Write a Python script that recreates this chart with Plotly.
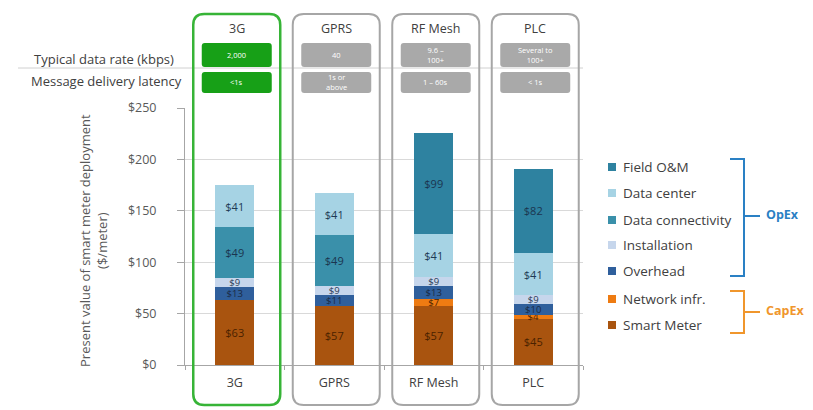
import plotly.graph_objects as go

# ---- data -------------------------------------------------------------
technologies = ["3G", "GPRS", "RF Mesh", "PLC"]
data_rate = ["2,000", "40", "9.6 –<br>100+", "Several to<br>100+"]
latency = ["<1s", "1s or<br>above", "1 – 60s", "< 1s"]

# cost components, stacked bottom to top ($/meter)
smart_meter = [63, 57, 57, 45]
network_infr = [0, 0, 7, 4]
overhead = [13, 11, 13, 10]
installation = [9, 9, 9, 9]
data_connectivity = [49, 49, 0, 0]
data_center = [41, 41, 41, 41]
field_om = [0, 0, 99, 82]

y_ticks = [0, 50, 100, 150, 200, 250]
y_tick_labels = [f"${v}" for v in y_ticks]

series = [
    ("Smart Meter", smart_meter, "#a9540f", "#4a2200"),
    ("Network infr.", network_infr, "#ee7b12", "#4a2200"),
    ("Overhead", overhead, "#2f5f9c", "#1a2a44"),
    ("Installation", installation, "#c6d6ec", "#2a3a55"),
    ("Data connectivity", data_connectivity, "#3a90aa", "#1b3550"),
    ("Data center", data_center, "#a6d3e4", "#1e3a55"),
    ("Field O&M", field_om, "#2e82a0", "#1b3550"),
]

# ---- plot-area geometry (pixels) -------------------------------------
W, H = 813, 410
PX_L, PX_R, PX_T, PX_B = 185, 583, 108, 365
GRAY = "#595959"
DARK = "#404040"


def px_x(px):
    return (px - PX_L) / (PX_R - PX_L)


def px_y(py):
    return (PX_B - py) / (PX_B - PX_T)


def cat_center_px(i):
    return PX_L + (i + 0.5) * (PX_R - PX_L) / len(technologies)


def rrect(x0, y0, x1, y1, r):
    """Rounded rectangle path (pixel input, paper output)."""
    pts = [
        ("M", [(x0 + r, y0)]),
        ("L", [(x1 - r, y0)]),
        ("Q", [(x1, y0), (x1, y0 + r)]),
        ("L", [(x1, y1 - r)]),
        ("Q", [(x1, y1), (x1 - r, y1)]),
        ("L", [(x0 + r, y1)]),
        ("Q", [(x0, y1), (x0, y1 - r)]),
        ("L", [(x0, y0 + r)]),
        ("Q", [(x0, y0), (x0 + r, y0)]),
    ]
    s = ""
    for cmd, ps in pts:
        s += cmd + " " + " ".join(f"{px_x(a):.5f},{px_y(b):.5f}" for a, b in ps) + " "
    return s + "Z"


fig = go.Figure()

for name, vals, color, tcolor in series:
    fig.add_trace(go.Bar(
        x=technologies,
        y=vals,
        name=name,
        marker=dict(color=color, line=dict(width=0)),
        width=0.39,
        text=[f"${v}" if v else "" for v in vals],
        textposition="inside",
        insidetextanchor="middle",
        textangle=0,
        constraintext="none",
        textfont=dict(color=tcolor, family="Open Sans",
                      size=[11 if v >= 15 else 9.5 for v in vals]),
        showlegend=False,
        hoverinfo="skip",
    ))

shapes = []
annotations = []

# row separator in the header table
shapes.append(dict(type="line", xref="paper", yref="paper",
                   x0=px_x(18), x1=px_x(583), y0=px_y(68), y1=px_y(68),
                   line=dict(color="#d0d0d0", width=1), layer="below"))

annotations.append(dict(text="Typical data rate (kbps)", xref="paper", yref="paper",
                        x=px_x(176), y=px_y(59), xanchor="right", yanchor="middle",
                        showarrow=False, font=dict(size=13, color=DARK)))
annotations.append(dict(text="Message delivery latency", xref="paper", yref="paper",
                        x=px_x(184), y=px_y(81), xanchor="right", yanchor="middle",
                        showarrow=False, font=dict(size=13, color=DARK)))

for i, tech in enumerate(technologies):
    cx = cat_center_px(i) + 2
    green = tech == "3G"
    shapes.append(dict(type="path", xref="paper", yref="paper",
                       path=rrect(cx - 43.5, 14, cx + 43.5, 405, 11),
                       line=dict(color="#37b437" if green else "#a6a6a6",
                                 width=2.5 if green else 2),
                       fillcolor="rgba(0,0,0,0)"))
    pill = "#17a017" if green else "#a9a9a9"
    for (t0, t1), label in (((43, 67), data_rate[i]), ((72, 93), latency[i])):
        shapes.append(dict(type="path", xref="paper", yref="paper",
                           path=rrect(cx - 35, t0, cx + 35, t1, 3),
                           line=dict(width=0), fillcolor=pill))
        annotations.append(dict(text=label, xref="paper", yref="paper",
                                x=px_x(cx), y=px_y((t0 + t1) / 2),
                                xanchor="center", yanchor="middle", showarrow=False,
                                font=dict(size=7.5, color="white"),
                                align="center"))
    annotations.append(dict(text=tech, xref="paper", yref="paper",
                            x=px_x(cx), y=px_y(28), xanchor="center", yanchor="middle",
                            showarrow=False, font=dict(size=12.5, color=DARK)))

# y-axis title
annotations.append(dict(text="Present value of smart meter deployment<br>($/meter)",
                        xref="paper", yref="paper", x=px_x(94), y=px_y(241),
                        xanchor="center", yanchor="middle", textangle=-90,
                        showarrow=False, font=dict(size=13, color=GRAY)))

# legend, listed top to bottom
legend_rows = [167, 193, 220, 245, 271, 299, 325]
for (name, _, color, _), ly in zip(reversed(series), legend_rows):
    shapes.append(dict(type="rect", xref="paper", yref="paper",
                       x0=px_x(608), x1=px_x(616), y0=px_y(ly - 4), y1=px_y(ly + 4),
                       line=dict(width=0), fillcolor=color))
    annotations.append(dict(text=name, xref="paper", yref="paper",
                            x=px_x(621), y=px_y(ly), xanchor="left", yanchor="middle",
                            showarrow=False, font=dict(size=13.5, color=DARK)))

# OpEx / CapEx brackets
for top, bot, mid, color, label in ((159, 276, 216, "#2a80c4", "OpEx"),
                                    (291, 333, 312, "#f0962c", "CapEx")):
    path = (f"M {px_x(730)},{px_y(top)} L {px_x(744)},{px_y(top)} "
            f"L {px_x(744)},{px_y(bot)} L {px_x(730)},{px_y(bot)} "
            f"M {px_x(744)},{px_y(mid)} L {px_x(760)},{px_y(mid)}")
    shapes.append(dict(type="path", xref="paper", yref="paper", path=path,
                       line=dict(color=color, width=2)))
    annotations.append(dict(text=f"<b>{label}</b>", xref="paper", yref="paper",
                            x=px_x(764), y=px_y(mid - 2), xanchor="left", yanchor="middle",
                            showarrow=False, font=dict(size=12.5, color=color)))

fig.update_layout(
    width=W, height=H,
    margin=dict(l=PX_L, r=W - PX_R, t=PX_T, b=H - PX_B, pad=0),
    barmode="stack",
    plot_bgcolor="white",
    paper_bgcolor="white",
    font=dict(family="Open Sans", color=GRAY),
    shapes=shapes,
    annotations=annotations,
    showlegend=False,
)

fig.update_xaxes(
    range=[-0.5, 3.5],
    showline=True, linecolor="#a6a6a6", linewidth=1,
    ticks="outside", tickson="boundaries", ticklen=4, tickcolor="#a6a6a6",
    tickfont=dict(size=12.5, color=DARK),
    ticklabelstandoff=6,
    showgrid=False,
)
fig.update_yaxes(
    range=[0, 250],
    tickmode="array",
    tickvals=y_ticks,
    ticktext=y_tick_labels,
    showline=True, linecolor="#a6a6a6", linewidth=1,
    ticks="outside", ticklen=7, tickcolor="#a6a6a6",
    tickfont=dict(size=12.5, color=GRAY),
    ticklabelstandoff=18,
    showgrid=True, gridcolor="#d9d9d9", gridwidth=1,
    zeroline=False,
)

fig.write_html("out.html")
